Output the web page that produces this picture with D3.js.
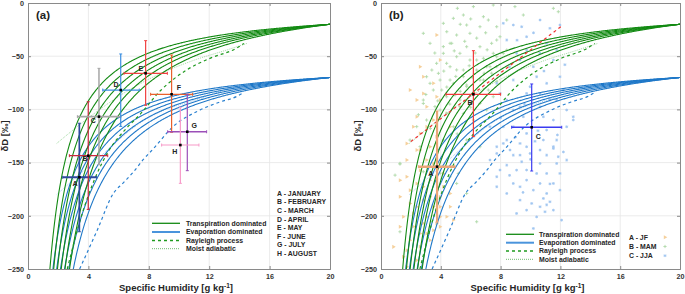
<!DOCTYPE html>
<html>
<head>
<meta charset="utf-8">
<script src="https://cdn.jsdelivr.net/npm/d3@7"></script>
<style>
  body { margin: 0; background: #fff; }
  text { font-family: "Liberation Sans", Arial, sans-serif; }
</style>
</head>
<body>
<div id="container"></div>
<script>
let w = 685;
let h = 294;

// ---- DATA ----
let qTicks = [0, 4, 8, 12, 16, 20];
let dTicks = [0, -50, -100, -150, -200, -250];

// mixing curves: dry end (q at -250) and common moist end
let transpStart = [1.45, 1.70, 1.95, 2.20, 2.45, 2.75];
let transpEnd = [20, -20];
let evapStart = [1.65, 1.90, 2.15, 2.42, 2.70, 3.00];
let evapEnd = [20, -70];

// rayleigh + moist adiabatic lines
let rayleighGreen = [[2.6,-250],[3.5,-202],[4.4,-166],[5.3,-140],[6.5,-118],[7.4,-105],[8.8,-82],[10.5,-63],[12.05,-52],[13.8,-42.5],[14.3,-38]];
let rayleighBlue = [[3.42,-250],[4.6,-213],[5.65,-179],[6.31,-169],[6.97,-159],[7.64,-147],[8.3,-137],[9.62,-116],[11.39,-100.6],[12.72,-93],[13.8,-88],[14.3,-84]];
let adiabatGreen = [[1.9,-132],[4.0,-108],[6.31,-85],[8.08,-71],[10.95,-54],[13.2,-44],[14.5,-38]];
let adiabatBlue = [[1.9,-180],[3.5,-160],[4.8,-144],[5.9,-130],[7.4,-113],[8.96,-101],[11.17,-91],[13.4,-80],[14.5,-77]];

// panel (a) monthly means and spreads
let months = ["A","B","C","D","E","F","G","H"];
let monthNames = ["A - JANUARY","B - FEBRUARY","C - MARCH","D - APRIL","E - MAY","F - JUNE","G - JULY","H - AUGUST"];
let monthQ    = [3.40, 3.99, 4.70, 6.14, 7.79, 9.51, 10.55, 10.09];
let monthQlo  = [2.30, 2.74, 3.27, 4.95, 6.36, 8.12, 9.25, 8.85];
let monthQhi  = [4.55, 5.28, 6.15, 7.37, 9.23, 10.90, 11.83, 11.32];
let monthD    = [-163.8, -143.5, -106.8, -81.8, -66.1, -85.8, -121.0, -133.5];
let monthDlo  = [-215, -194, -152, -116, -96.2, -121.5, -157.6, -169.5];
let monthDhi  = [-113, -92.8, -61.4, -47.9, -35.4, -48.9, -85.8, -98];

// panel (b) seasonal means and spreads
let seasons = ["A","B","C"];
let seasonNames = ["A - JF","B - MAM","C - JJA"];
let seasonQ   = [3.75, 6.18, 10.08];
let seasonQlo = [2.50, 4.35, 8.74];
let seasonQhi = [4.95, 8.00, 12.09];
let seasonD   = [-153.8, -85.8, -116.8];
let seasonDlo = [-206, -125.6, -157.9];
let seasonDhi = [-101.5, -44.8, -76.1];

// red regression line in (b)
let regLine = [[1.99,-130.3],[12.09,-21.6]];

// scatter (b)
let jfPoints = [[3.72,-30.1],[1.94,-81.8],[2.83,-85.0],[3.50,-75.5],[3.95,-91.2],[3.05,-97.5],[2.39,-106.9],[3.50,-110],[4.39,-103.8],[2.61,-122.6],[3.72,-125.7],[3.28,-135.1],[3.95,-53.6],[1.72,-132],[2.39,-138.2],[3.05,-147.6],[2.61,-157.1],[1.72,-163.3],[2.39,-169.6],[3.28,-166.5],[4.17,-172.7],[1.27,-182.1],[1.94,-188.4],[2.83,-185.3],[3.95,-182.1],[4.62,-191.5],[2.16,-197.8],[3.05,-201],[3.72,-207.2],[1.27,-210.3],[1.94,-222.9],[2.61,-216.6],[1.72,-232.3],[1.49,-238.6],[2.39,-241.7],[3.28,-222.9],[3.95,-210.3],[3.50,-191.5],[4.39,-201],[3.5,-213.5],[0.83,-229.2],
  [1.72,-147.6],[2.83,-172.7],[3.28,-182],[2.39,-191.5],[1.49,-201],[2.83,-207],[2.16,-210],[3.95,-201],[3.05,-216.6],[1.72,-248],[2.61,-229],[3.95,-191.5],[4.62,-179],[4.84,-204],[1.94,-176],[1.27,-166.5],[2.61,-138.2],[3.5,-150.8],[4.17,-160.2],[2.39,-91.2],[2.16,-116.3],[3.05,-116.3],[3.72,-88.1],[4.62,-116.3],[2.83,-69.3],[2.61,-59.9]];
let mamPoints = [[5.11,-5.0],[4.84,-14.4],[5.51,-11.3],[7.51,-1.9],[7.18,-16.0],[6.62,-22.3],[7.74,-22.3],[5.95,-28.5],[5.06,-30.1],[4.62,-37.9],[5.73,-41.1],[6.62,-41.1],[7.40,-37.9],[7.96,-31.7],[4.17,-47.3],[5.06,-50.5],[5.95,-53.6],[6.85,-52.0],[7.74,-50.5],[3.72,-56.7],[4.62,-59.9],[5.51,-63.0],[6.40,-63.0],[7.29,-59.9],[3.05,-69.3],[3.95,-72.4],[4.84,-75.5],[5.73,-77.1],[6.85,-72.4],[7.74,-74.0],[3.50,-81.8],[4.39,-88.1],[5.28,-91.2],[6.62,-94.4],[2.83,-94.4],[3.95,-100.6],[8.96,-3.4],[9.52,-11.3],[11.53,-5.0],[11.86,-8.2],[8.41,-44.2],[5.51,-103.8],[6.18,-110],[7.07,-100.6],[7.51,-88.1],[4.84,-116.3],[5.73,-128.8],[6.62,-135.1],[4.17,-128.8],[1.27,-151.4],[0.94,-161.8],[1.27,-215],[5.06,-169.6],[4.62,-163.3],[5.73,-179],[6.40,-205.6],[3.95,-160],[2.83,-158.6],[5.17,-160.2],
  [4.17,-41.0],[4.73,-37.9],[5.28,-47.3],[4.39,-56.7],[5.06,-62.9],[3.84,-66.1],[4.62,-72.4],[5.51,-69.2],[3.28,-75.5],[4.06,-81.8],[4.95,-86.5],[5.73,-78.6],[6.62,-72.4],[7.07,-59.9],[7.51,-47.3],[6.40,-53.6],[2.83,-91.2],[3.61,-97.4],[4.39,-103.7],[5.28,-97.4],[3.05,-110],[2.39,-116.2],[1.94,-128.8],[2.61,-135.0],[1.27,-150.7],[3.28,-37.9],[2.83,-28.5],[4.17,-19.1],[6.18,-3.4],[6.85,-12.9],[5.73,-20.7],[7.74,-34.8],[8.41,-16],[7.18,-81.8],[7.74,-59.9],[8.18,-47.3],
  [5.3,-20],[6.0,-15],[6.4,-33],[7.0,-28],[4.4,-27],[5.6,-36],[6.3,-47],[7.1,-44],[4.9,-45],[3.6,-47],[5.9,-59],[6.9,-66],[4.2,-64],[3.4,-63],[5.0,-69],[6.1,-70],[7.4,-66],[4.4,-79],[5.3,-83],[6.2,-86],[3.0,-86],[3.8,-92],[4.6,-95],[2.5,-105],[3.3,-118],[5.1,-123],[6.0,-98]];
let jjaPoints = [[8.18,-19.1],[8.85,-20.7],[9.41,-22.3],[10.64,-16.0],[11.30,-23.8],[11.97,-20.7],[8.41,-34.8],[9.74,-31.7],[11.08,-37.9],[9.30,-53.6],[10.19,-59.9],[11.53,-53.6],[8.85,-72.4],[9.97,-78.7],[11.08,-75.5],[11.97,-69.3],[8.41,-91.2],[9.30,-97.5],[10.64,-97.5],[11.75,-91.2],[12.86,-110],[8.85,-116.3],[9.74,-122.6],[11.08,-119.4],[11.75,-128.8],[8.41,-128.8],[7.74,-135.1],[10.86,-106.9],[11.53,-110],[12.42,-116.3],[9.52,-106.9],[7.29,-116.3],[7.74,-141.4],[8.85,-143],[9.74,-135.1],[10.64,-138.2],[11.53,-136.7],[12.42,-147.6],[8.41,-152.4],[9.07,-157.1],[10.64,-150.8],[11.08,-160.2],[11.53,-169.6],[9.74,-166.5],[8.85,-169.6],[10.19,-175.9],[7.74,-172.7],[10.86,-183.7],[11.30,-186.8],[10.64,-191.5],[9.30,-185.3],[10.08,-188.4],[12.08,-204.1],[10.19,-211.9],[9.41,-149.2],[11.97,-160.2],[10.97,-196.2],[7.29,-147.6],
  [8.18,-132],[8.63,-138.2],[9.30,-143],[9.97,-141.4],[11.08,-143],[11.86,-144.5],[7.96,-157],[9.74,-157],[10.41,-160.2],[11.75,-150.8],[7.74,-163.3],[10.64,-169.6],[11.97,-175.9],[8.41,-179],[9.30,-172.7],[11.08,-179],[9.74,-194.7],[11.53,-194.7],[10.41,-201],[9.07,-197.8],[11.08,-189.7],[7.74,-75.5],[7.96,-85],[9.74,-85],[10.41,-69.3],[10.64,-85],[11.30,-91.2],[12.42,-100.6],[12.2,-81.8],[8.85,-100.6],[10.86,-128.8],[9.30,-132],[8.18,-116.3],[11.53,-135],[12.86,-106.9],[9.74,-44.2],[10.64,-47.3],[11.75,-44.2],[9.07,-47.3],
  [8.0,-108],[9.0,-126],[10.3,-130],[10.0,-147],[11.8,-124],[12.2,-140],[8.6,-162],[9.5,-178],[11.3,-170],[10.5,-120],[9.6,-95],[8.6,-60],[10.9,-64],[12.3,-58],[9.1,-35],[10.2,-28]];

// ---- STYLE ----
let monthColors = ["#2e4a9e","#c8283c","#a6a6a6","#3a8ee0","#f04040","#e8602c","#9b4fb8","#f799c8"];
let monthHWidth = [2, 1.3, 1.8, 1.3, 1.3, 1.3, 1.5, 1.1];
let monthLabelOff = [[-4.3,6],[-3.3,3.3],[-5.7,4.3],[-4.7,-5.7],[-4.7,-5],[7.3,-7],[7,-6],[-5.6,6.7]];
let seasonColors = ["#eba678","#f23b3b","#3b3bf0"];
let seasonWidth = [2.5, 1.3, 1.5];
let seasonLabelOff = [[-6.3,6.6],[-3.3,8.4],[6.6,9.4]];
let green = "#138a13";
let blue = "#1f78c8";
let jfColor = "#f5d09c";
let mamColor = "#b0d9a9";
let jjaColor = "#a2c6f1";

let svg = d3.select("#container").append("svg")
    .attr("width", w)
    .attr("height", h)
    .style("background-color", "white");

// mixing hyperbola between (q1,d1) and (q2,d2)
function mixCurve(q1, d1, q2, d2) {
  let pts = [];
  for (let q = q1; q <= q2 + 1e-9; q += 0.05) {
    let d = (q1 * d1 * (q2 - q) + q2 * d2 * (q - q1)) / (q * (q2 - q1));
    pts.push([q, d]);
  }
  return pts;
}

function drawPanel(x0, x1, id) {
  let xs = d3.scaleLinear().domain([0, 20]).range([x0, x1]);
  let ys = d3.scaleLinear().domain([-250, 0]).range([269, 3]);
  let g = svg.append("g");

  svg.append("clipPath").attr("id", "clip" + id)
    .append("rect").attr("x", x0).attr("y", 3).attr("width", x1 - x0).attr("height", 266);

  // grid
  g.selectAll(".vg").data(qTicks.slice(1, -1)).enter().append("line")
    .attr("x1", d => xs(d)).attr("x2", d => xs(d)).attr("y1", 3).attr("y2", 269)
    .attr("stroke", "#e6e6e6").attr("stroke-width", 0.8);
  g.selectAll(".hg").data(dTicks.slice(1, -1)).enter().append("line")
    .attr("y1", d => ys(d)).attr("y2", d => ys(d)).attr("x1", x0).attr("x2", x1)
    .attr("stroke", "#e6e6e6").attr("stroke-width", 0.8);

  let plot = g.append("g").attr("clip-path", "url(#clip" + id + ")");
  return { xs: xs, ys: ys, g: g, plot: plot };
}

function drawAxes(p, x0, x1) {
  let g = p.g;
  let bottom = g.append("g").attr("transform", "translate(0,269)")
    .call(d3.axisBottom(p.xs).tickValues(qTicks).tickSize(-3).tickPadding(5).tickFormat(d3.format("d")));
  let left = g.append("g").attr("transform", "translate(" + x0 + ",0)")
    .call(d3.axisLeft(p.ys).tickValues(dTicks).tickSize(-3).tickPadding(4).tickFormat(d3.format("d")));
  let top = g.append("g").attr("transform", "translate(0,3)")
    .call(d3.axisTop(p.xs).tickValues(qTicks).tickSize(-3).tickFormat(""));
  let right = g.append("g").attr("transform", "translate(" + x1 + ",0)")
    .call(d3.axisRight(p.ys).tickValues(dTicks).tickSize(-3).tickFormat(""));
  [bottom, left, top, right].forEach(a => {
    a.select(".domain").attr("stroke", "#8a8a8a").attr("stroke-width", 1);
    a.selectAll(".tick line").attr("stroke", "#8a8a8a");
    a.selectAll("text").attr("font-size", 7.2).attr("font-weight", "bold").attr("fill", "#333")
      .attr("font-family", "'Liberation Sans', Arial, sans-serif");
  });

  let cx = (x0 + x1) / 2;
  let t = g.append("text").attr("x", cx - 3).attr("y", 291).attr("text-anchor", "middle")
    .attr("font-size", 9.5).attr("font-weight", "bold").attr("fill", "#262626");
  t.append("tspan").text("Specific Humidity [g kg");
  t.append("tspan").attr("baseline-shift", "super").attr("font-size", 6.5).text("-1");
  t.append("tspan").text("]");

  g.append("text").attr("transform", "translate(" + (x0 - 20) + ",136) rotate(-90)")
    .attr("text-anchor", "middle").attr("font-size", 9.5).attr("font-weight", "bold").attr("fill", "#262626")
    .text("δD [‰]");
}

function drawModel(p) {
  let line = d3.line().x(d => p.xs(d[0])).y(d => p.ys(d[1]));
  let smooth = d3.line().x(d => p.xs(d[0])).y(d => p.ys(d[1])).curve(d3.curveMonotoneX);

  p.plot.append("path").datum(adiabatBlue).attr("d", smooth)
    .attr("fill", "none").attr("stroke", "#8fc0ee").attr("stroke-width", 0.8).attr("stroke-dasharray", "1,1");
  p.plot.append("path").datum(adiabatGreen).attr("d", smooth)
    .attr("fill", "none").attr("stroke", "#8ccf8c").attr("stroke-width", 0.8).attr("stroke-dasharray", "1,1");

  p.plot.selectAll(".evap").data(evapStart).enter().append("path")
    .attr("d", d => line(mixCurve(d, -250, evapEnd[0], evapEnd[1])))
    .attr("fill", "none").attr("stroke", blue).attr("stroke-width", 1.1);
  p.plot.selectAll(".transp").data(transpStart).enter().append("path")
    .attr("d", d => line(mixCurve(d, -250, transpEnd[0], transpEnd[1])))
    .attr("fill", "none").attr("stroke", green).attr("stroke-width", 1.1);

  p.plot.append("path").datum(rayleighBlue).attr("d", smooth)
    .attr("fill", "none").attr("stroke", "#2a80d0").attr("stroke-width", 1.2).attr("stroke-dasharray", "3,3");
  p.plot.append("path").datum(rayleighGreen).attr("d", smooth)
    .attr("fill", "none").attr("stroke", "#1f9a1f").attr("stroke-width", 1.2).attr("stroke-dasharray", "3,3");
}

function drawBars(p, names, q, qlo, qhi, d, dlo, dhi, colors, hw, offs) {
  names.forEach(function (n, i) {
    let g = p.g.append("g");
    let c = colors[i];
    let cx = p.xs(q[i]), cy = p.ys(d[i]);
    // vertical
    g.append("line").attr("x1", cx).attr("x2", cx).attr("y1", p.ys(dlo[i])).attr("y2", p.ys(dhi[i]))
      .attr("stroke", c).attr("stroke-width", Math.max(1.2, hw[i] - 0.3));
    [dlo[i], dhi[i]].forEach(v => g.append("line").attr("x1", cx - 1.5).attr("x2", cx + 1.5)
      .attr("y1", p.ys(v)).attr("y2", p.ys(v)).attr("stroke", c).attr("stroke-width", 1));
    // horizontal
    g.append("line").attr("x1", p.xs(qlo[i])).attr("x2", p.xs(qhi[i])).attr("y1", cy).attr("y2", cy)
      .attr("stroke", c).attr("stroke-width", hw[i]);
    [qlo[i], qhi[i]].forEach(v => g.append("line").attr("y1", cy - 1.5).attr("y2", cy + 1.5)
      .attr("x1", p.xs(v)).attr("x2", p.xs(v)).attr("stroke", c).attr("stroke-width", 1));
    g.append("rect").attr("x", cx - 1.3).attr("y", cy - 1.3).attr("width", 2.6).attr("height", 2.6).attr("fill", "#000");
    g.append("text").attr("x", cx + offs[i][0]).attr("y", cy + offs[i][1]).attr("dy", "0.35em")
      .attr("text-anchor", "middle").attr("font-size", 7).attr("font-weight", "bold").attr("fill", "#222").text(n);
  });
}

function drawLegend(x, ys, textX) {
  let items = [
    { label: "Transpiration dominated", color: green, width: 1.3, dash: null },
    { label: "Evaporation dominated", color: "#4a94dc", width: 2, dash: null },
    { label: "Rayleigh process", color: "#1f9a1f", width: 1.3, dash: "3,3" },
    { label: "Moist adiabatic", color: "#5fb05f", width: 0.9, dash: "1,1" }
  ];
  items.forEach(function (it, i) {
    svg.append("line").attr("x1", x[0]).attr("x2", x[1]).attr("y1", ys[i]).attr("y2", ys[i])
      .attr("stroke", it.color).attr("stroke-width", it.width).attr("stroke-dasharray", it.dash);
    svg.append("text").attr("x", textX).attr("y", ys[i]).attr("dy", "0.35em")
      .attr("font-size", 6.9).attr("font-weight", "bold").attr("fill", "#262626").text(it.label);
  });
}

// marker makers
let tri = d3.symbol().type(d3.symbolTriangle).size(7);
function plusPath(s) { return "M" + (-s) + ",0H" + s + "M0," + (-s) + "V" + s; }
function starPath(s) {
  let k = s * 0.7;
  return plusPath(s) + "M" + (-k) + "," + (-k) + "L" + k + "," + k + "M" + (-k) + "," + k + "L" + k + "," + (-k);
}

// ---- PANEL A ----
let pa = drawPanel(28, 330, "a");
drawModel(pa);
drawAxes(pa, 28, 330);
drawBars(pa, months, monthQ, monthQlo, monthQhi, monthD, monthDlo, monthDhi, monthColors, monthHWidth, monthLabelOff);
svg.append("text").attr("x", 36).attr("y", 19).attr("font-size", 11.5).attr("font-weight", "bold").attr("fill", "#222").text("(a)");
drawLegend([152, 180], [223.3, 232, 240.5, 248.7], 186);
svg.selectAll(".mname").data(monthNames).enter().append("text")
  .attr("x", 277).attr("y", (d, i) => 193.3 + i * 8.63).attr("dy", "0.35em")
  .attr("font-size", 6.9).attr("font-weight", "bold").attr("fill", "#262626").text(d => d);

// ---- PANEL B ----
let pb = drawPanel(381, 680, "b");

pb.plot.selectAll(".jf").data(jfPoints).enter().append("path")
  .attr("d", tri).attr("transform", d => "translate(" + pb.xs(d[0]) + "," + pb.ys(d[1]) + ") rotate(90)")
  .attr("fill", jfColor);
pb.plot.selectAll(".mam").data(mamPoints).enter().append("path")
  .attr("d", plusPath(1.6)).attr("transform", d => "translate(" + pb.xs(d[0]) + "," + pb.ys(d[1]) + ")")
  .attr("fill", "none").attr("stroke", mamColor).attr("stroke-width", 0.9);
pb.plot.selectAll(".jja").data(jjaPoints).enter().append("path")
  .attr("d", starPath(1.4)).attr("transform", d => "translate(" + pb.xs(d[0]) + "," + pb.ys(d[1]) + ")")
  .attr("fill", "none").attr("stroke", jjaColor).attr("stroke-width", 0.9);

drawModel(pb);
pb.plot.append("path").datum(regLine)
  .attr("d", d3.line().x(d => pb.xs(d[0])).y(d => pb.ys(d[1])))
  .attr("fill", "none").attr("stroke", "#f03030").attr("stroke-width", 1.2).attr("stroke-dasharray", "3,3");
drawAxes(pb, 381, 680);
drawBars(pb, seasons, seasonQ, seasonQlo, seasonQhi, seasonD, seasonDlo, seasonDhi, seasonColors, seasonWidth, seasonLabelOff);
svg.append("text").attr("x", 389).attr("y", 19).attr("font-size", 11.5).attr("font-weight", "bold").attr("fill", "#222").text("(b)");
drawLegend([506, 534], [234.3, 242.7, 251, 259.3], 539);

seasonNames.forEach(function (n, i) {
  let y = 237.3 + i * 9.2;
  svg.append("text").attr("x", 629).attr("y", y).attr("dy", "0.35em")
    .attr("font-size", 6.9).attr("font-weight", "bold").attr("fill", "#262626").text(n);
  let m = svg.append("path").attr("transform", "translate(665," + y + ")" + (i === 0 ? " rotate(90)" : ""));
  if (i === 0) m.attr("d", tri).attr("fill", jfColor);
  if (i === 1) m.attr("d", plusPath(1.6)).attr("fill", "none").attr("stroke", mamColor).attr("stroke-width", 0.9);
  if (i === 2) m.attr("d", starPath(1.4)).attr("fill", "none").attr("stroke", jjaColor).attr("stroke-width", 0.9);
});
</script>
</body>
</html>
